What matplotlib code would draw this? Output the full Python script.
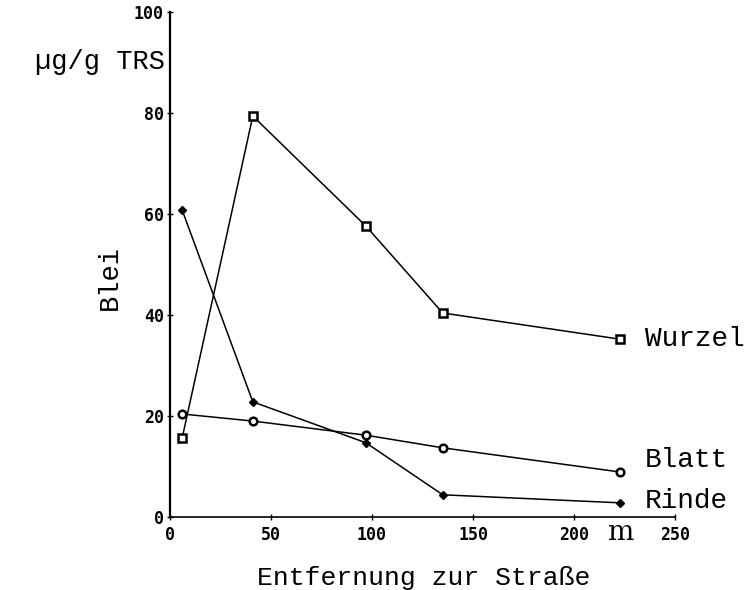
import numpy as np
import matplotlib
matplotlib.use('Agg')
import matplotlib.pyplot as plt

# distance from road (m)
dist = [6, 41, 97, 135, 223]
# lead content, ug/g dry matter
wurzel = [15.6, 79.4, 57.6, 40.4, 35.2]
blatt = [20.4, 19.0, 16.2, 13.7, 8.9]
rinde = [60.8, 22.8, 14.7, 4.4, 2.8]

series_names = ['Wurzel', 'Blatt', 'Rinde']
xticks = [0, 50, 100, 150, 200, 250]
yticks = [0, 20, 40, 60, 80, 100]

mono = 'Liberation Mono'

fig = plt.figure(figsize=(7.53, 5.9), dpi=100)
ax = fig.add_axes([170 / 753, 1 - 517 / 590, 505 / 753, 505 / 590])

ax.plot(dist, wurzel, color='black', lw=1.1, marker='s', ms=6,
        mfc='white', mec='black', mew=1.8)
ax.plot(dist, blatt, color='black', lw=1.1, marker='o', ms=5.5,
        mfc='white', mec='black', mew=1.8)
ax.plot(dist, rinde, color='black', lw=1.1, marker='D', ms=4,
        mfc='black', mec='black')

ax.set_xlim(0, 250)
ax.set_ylim(0, 100)
ax.set_xticks(xticks)
ax.set_yticks(yticks)
ax.set_xticklabels([str(t) for t in xticks], fontfamily='DejaVu Sans Mono',
                   fontweight='bold', fontsize=12)
ax.set_yticklabels([str(t) for t in yticks], fontfamily='DejaVu Sans Mono',
                   fontweight='bold', fontsize=12)
ax.tick_params(axis='both', direction='inout', length=5, width=1)
ax.tick_params(axis='x', pad=4)
ax.tick_params(axis='y', pad=2)

for s in ['top', 'right']:
    ax.spines[s].set_visible(False)
ax.spines['left'].set_linewidth(1.6)
ax.spines['bottom'].set_linewidth(1.2)

# series labels at the right end
label_y = [339, 460, 501]
for name, py in zip(series_names, label_y):
    fig.text(645 / 753, 1 - py / 590, name, fontfamily=mono, fontsize=20,
             ha='left', va='center')

fig.text(35 / 753, 1 - 62 / 590, 'µg/g TRS', fontfamily=mono, fontsize=19.5,
         ha='left', va='center')
fig.text(110 / 753, 1 - 278 / 590, 'Blei', fontfamily=mono, fontsize=19.5,
         rotation=90, ha='center', va='center')
fig.text(424 / 753, 1 - 578 / 590, 'Entfernung zur Straße', fontfamily=mono,
         fontsize=19, ha='center', va='center')
fig.text(620 / 753, 1 - 532 / 590, 'm', fontfamily='DejaVu Serif', fontsize=20,
         ha='center', va='center')

fig.savefig('out.png', dpi=100)
